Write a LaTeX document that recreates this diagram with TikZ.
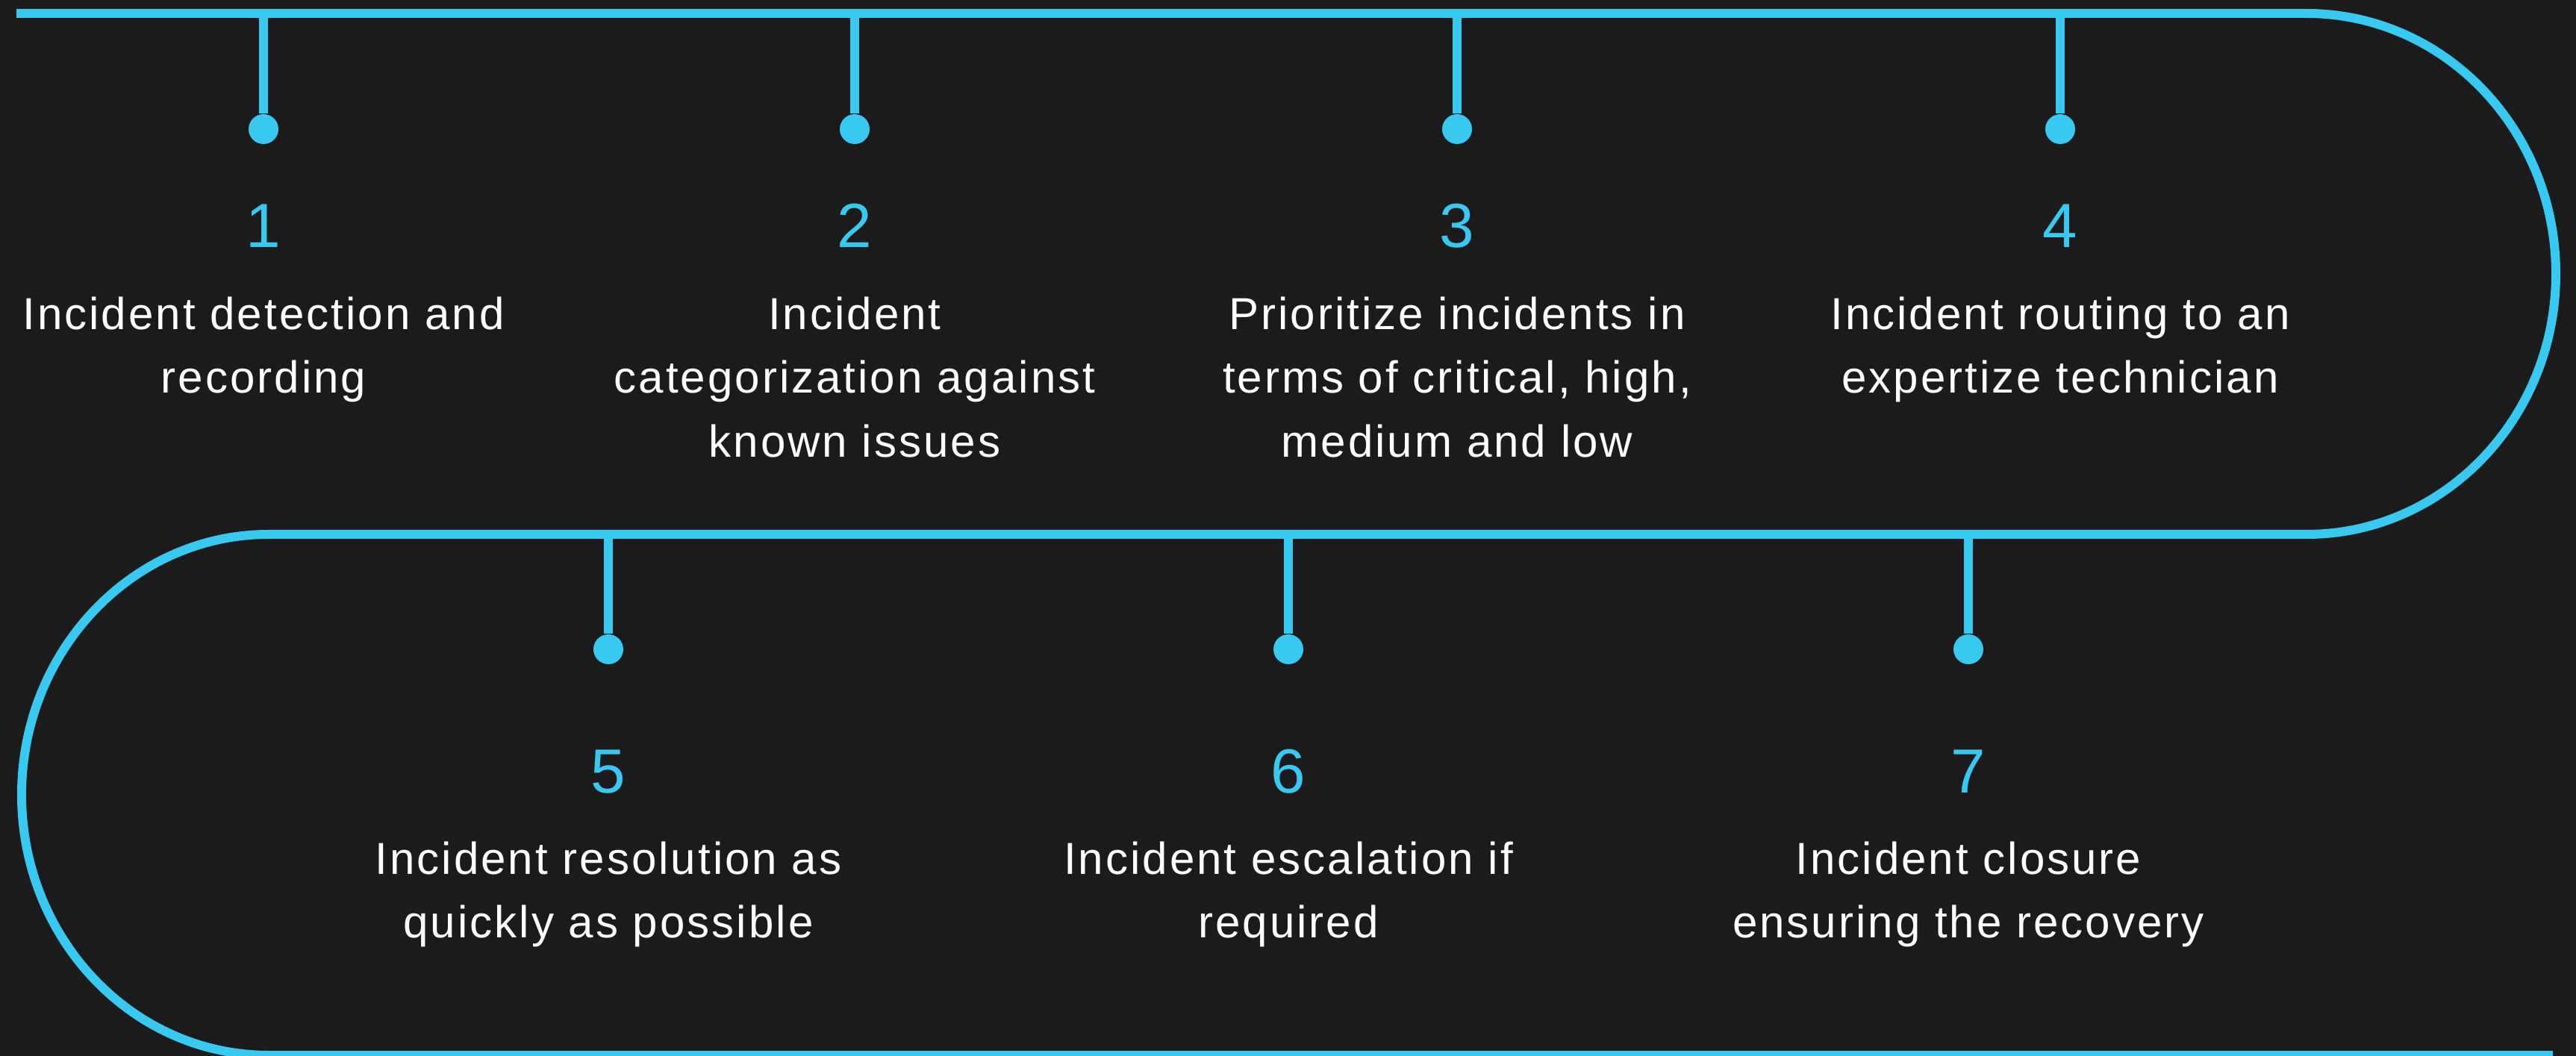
\documentclass[tikz,border=0pt]{standalone}
\usepackage{fontspec}
\setmainfont{Liberation Sans}[LetterSpace=5]
\newfontfamily\numfont{Liberation Sans}
\usetikzlibrary{positioning}

\definecolor{bgdark}{RGB}{27,27,27}
\definecolor{skyline}{RGB}{56,201,240}

\begin{document}
\begin{tikzpicture}[
    route/.style={draw=skyline,line width=0.12cm},
    stem/.style={draw=skyline,line width=0.115cm},
    dot/.style={circle,fill=skyline,inner sep=0pt,minimum size=0.4cm},
    num/.style={text=skyline,inner sep=0pt,font=\numfont\fontsize{23.8pt}{26pt}\selectfont},
    desc/.style={text=white,align=center,inner sep=0pt,font=\fontsize{17.1pt}{24.3pt}\selectfont},
    on grid]
\fill[bgdark] (0,0) rectangle (34.51,-14.15);
\useasboundingbox (0,0) rectangle (34.51,-14.15);

% the winding road
\coordinate (topline) at (0,-0.18);
\coordinate (midline) at (0,-7.16);
\draw[route] (0.22,-0.18) -- (30.90,-0.18)
    arc[start angle=90,end angle=-90,x radius=3.34,y radius=3.49]
    -- (3.60,-7.16)
    arc[start angle=90,end angle=270,x radius=3.31,y radius=3.49]
    -- (34.20,-14.14);

\begin{scope}[every node/.style={dot}]
    \node (dot1) at (3.53,-1.73) {};
    \node[right=7.92 of dot1] (dot2) {};
    \node[right=8.07 of dot2] (dot3) {};
    \node[right=8.08 of dot3] (dot4) {};
    \node (dot5) at (8.15,-8.70) {};
    \node[right=9.11 of dot5] (dot6) {};
    \node[right=9.11 of dot6] (dot7) {};
\end{scope}

\foreach \i in {1,...,4}
    \draw[stem] (dot\i |- topline) -- (dot\i);
\foreach \i in {5,6,7}
    \draw[stem] (dot\i |- midline) -- (dot\i);

\foreach \i in {1,...,4}
    \node[num,below=1.59 of dot\i,anchor=base] (num\i) {\i};
\foreach \i in {5,6,7}
    \node[num,below=1.92 of dot\i,anchor=base] (num\i) {\i};

\node[desc,below=0.65 of num1.base,anchor=north] (txt1) {Incident detection and\\recording};
\node[desc,below=0.65 of num2.base,anchor=north] (txt2) {Incident\\categorization against\\known issues};
\node[desc,below=0.65 of num3.base,anchor=north] (txt3) {Prioritize incidents in\\terms of critical, high,\\medium and low};
\node[desc,below=0.65 of num4.base,anchor=north] (txt4) {Incident routing to an\\expertize technician};
\node[desc,below=0.65 of num5.base,anchor=north] (txt5) {Incident resolution as\\quickly as possible};
\node[desc,below=0.65 of num6.base,anchor=north] (txt6) {Incident escalation if\\required};
\node[desc,below=0.65 of num7.base,anchor=north] (txt7) {Incident closure\\ensuring the recovery};
\end{tikzpicture}
\end{document}
